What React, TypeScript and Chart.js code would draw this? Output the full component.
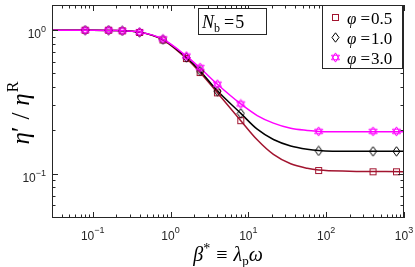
import React, { useEffect, useRef } from 'react';
import { Chart, registerables } from 'chart.js';

Chart.register(...registerables);

// ---- data ----
const markerX = [0.08, 0.16, 0.24, 0.4, 0.8, 1.6, 2.4, 4, 8, 80, 400, 800];
const phi05Markers = [1.0, 1.0, 0.99, 0.965, 0.855, 0.635, 0.507, 0.366, 0.234, 0.105, 0.103, 0.103];
const phi10Markers = [1.0, 1.0, 0.99, 0.965, 0.86, 0.645, 0.52, 0.376, 0.263, 0.144, 0.143, 0.143];
const phi30Markers = [1.0, 1.0, 0.99, 0.97, 0.87, 0.66, 0.55, 0.42, 0.306, 0.197, 0.197, 0.197];

const curveX = [0.03, 0.1, 0.2, 0.4, 0.8, 1.6, 2.4, 4, 8, 13, 21, 35, 57, 80, 200, 1000];
const phi05Curve = [1.0, 1.0, 0.995, 0.97, 0.855, 0.635, 0.507, 0.366, 0.234, 0.172, 0.136, 0.117, 0.109, 0.106, 0.104, 0.103];
const phi10Curve = [1.0, 1.0, 0.995, 0.97, 0.86, 0.645, 0.52, 0.378, 0.263, 0.204, 0.173, 0.156, 0.148, 0.145, 0.143, 0.143];
const phi30Curve = [1.0, 1.0, 0.995, 0.972, 0.865, 0.66, 0.545, 0.42, 0.306, 0.254, 0.225, 0.207, 0.2, 0.197, 0.196, 0.196];

const seriesLabels = ['0.5', '1.0', '3.0'];
const xTickValues = [0.1, 1, 10, 100, 1000];
const xTickExponents = ['\u22121', '0', '1', '2', '3'];
const yTickValues = [1, 0.1];
const yTickExponents = ['0', '\u22121'];
const annotationValue = '5';

const RED = '#a2142f';
const BLACK = '#000000';
const MAGENTA = '#ff00ff';
const AXIS = '#262626';
const SERIF = '"Liberation Serif", "DejaVu Serif", serif';
const SANS = '"Liberation Sans", Arial, sans-serif';

function makeMarker(shape: string, color: string): HTMLCanvasElement {
  const c = document.createElement('canvas');
  const ctx = c.getContext('2d')!;
  if (shape === 'square') {
    c.width = 9; c.height = 9;
    ctx.strokeStyle = color; ctx.lineWidth = 1;
    ctx.strokeRect(1.5, 1.5, 6, 6);
  } else if (shape === 'diamond') {
    c.width = 9; c.height = 11;
    ctx.strokeStyle = color; ctx.lineWidth = 1;
    ctx.beginPath();
    ctx.moveTo(4.5, 0.8); ctx.lineTo(8, 5.5); ctx.lineTo(4.5, 10.2); ctx.lineTo(1, 5.5);
    ctx.closePath(); ctx.stroke();
  } else {
    c.width = 11; c.height = 11;
    ctx.strokeStyle = color; ctx.lineWidth = 1;
    const cx = 5.5, cy = 5.5, r = 4.6;
    for (const start of [-90, 90]) {
      ctx.beginPath();
      for (let k = 0; k < 3; k++) {
        const a = ((start + k * 120) * Math.PI) / 180;
        const px = cx + r * Math.cos(a), py = cy + r * Math.sin(a);
        if (k === 0) ctx.moveTo(px, py); else ctx.lineTo(px, py);
      }
      ctx.closePath(); ctx.stroke();
    }
  }
  return c;
}

type Part = { t: string; font: string; dy?: number; gap?: number };
function richWidth(ctx: CanvasRenderingContext2D, parts: Part[]) {
  let w = 0;
  for (const p of parts) { ctx.font = p.font; w += ctx.measureText(p.t).width + (p.gap || 0); }
  return w;
}
function drawRich(ctx: CanvasRenderingContext2D, parts: Part[], x: number, y: number) {
  let cx = x;
  for (const p of parts) {
    ctx.font = p.font;
    ctx.fillText(p.t, cx, y + (p.dy || 0));
    cx += ctx.measureText(p.t).width + (p.gap || 0);
  }
}

export default function App() {
  const ref = useRef<HTMLCanvasElement | null>(null);
  useEffect(() => {
    if (!ref.current) return;
    const mSquare = makeMarker('square', RED);
    const mDiamond = makeMarker('diamond', BLACK);
    const mStar = makeMarker('star', MAGENTA);
    const markers = [mSquare, mDiamond, mStar];

    const pts = (xs: number[], ys: number[]) => xs.map((x, i) => ({ x, y: ys[i] }));

    const overlay = {
      id: 'overlay',
      afterDraw(chart: any) {
        const { ctx, chartArea: a, scales } = chart;
        const xs = scales.x, ys = scales.y;
        ctx.save();
        ctx.strokeStyle = AXIS;
        ctx.fillStyle = AXIS;
        ctx.lineWidth = 1;
        // ticks
        ctx.beginPath();
        for (let d = -2; d <= 3; d++) {
          for (let m = 1; m <= 9; m++) {
            const v = m * Math.pow(10, d);
            if (v < xs.min * 0.999 || v > xs.max * 1.001) continue;
            const px = Math.round(xs.getPixelForValue(v)) + 0.5;
            const len = m === 1 ? 6 : 3.5;
            ctx.moveTo(px, a.bottom); ctx.lineTo(px, a.bottom - len);
            ctx.moveTo(px, a.top); ctx.lineTo(px, a.top + len);
          }
        }
        for (let d = -2; d <= 1; d++) {
          for (let m = 1; m <= 9; m++) {
            const v = m * Math.pow(10, d);
            if (v < ys.min * 0.999 || v > ys.max * 1.001) continue;
            const py = Math.round(ys.getPixelForValue(v)) + 0.5;
            const len = m === 1 ? 6 : 3.5;
            ctx.moveTo(a.left, py); ctx.lineTo(a.left + len, py);
            ctx.moveTo(a.right, py); ctx.lineTo(a.right - len, py);
          }
        }
        ctx.stroke();
        ctx.strokeRect(a.left + 0.5, a.top + 0.5, a.right - a.left - 1, a.bottom - a.top - 1);

        // tick labels
        ctx.textBaseline = 'alphabetic';
        ctx.textAlign = 'left';
        const baseFont = `12px ${SANS}`;
        const supFont = `9px ${SANS}`;
        xTickValues.forEach((v, i) => {
          const parts: Part[] = [{ t: '10', font: baseFont }, { t: xTickExponents[i], font: supFont, dy: -7 }];
          const w = richWidth(ctx, parts);
          const px = xs.getPixelForValue(v);
          drawRich(ctx, parts, px - w / 2, 240);
        });
        yTickValues.forEach((v, i) => {
          const parts: Part[] = [{ t: '10', font: baseFont }, { t: yTickExponents[i], font: supFont, dy: -6 }];
          const w = richWidth(ctx, parts);
          const py = ys.getPixelForValue(v);
          drawRich(ctx, parts, a.left - 6 - w, py + 8);
        });

        // axis titles
        ctx.fillStyle = '#000';
        const it = (s: number) => `italic ${s}px ${SERIF}`;
        const up = (s: number) => `${s}px ${SERIF}`;
        const xt: Part[] = [
          { t: '\u03b2', font: it(20) },
          { t: '*', font: up(14), dy: -8, gap: 6 },
          { t: '\u2261', font: up(20), gap: 6 },
          { t: '\u03bb', font: it(20) },
          { t: 'p', font: up(13), dy: 4 },
          { t: '\u03c9', font: it(20) },
        ];
        const xw = richWidth(ctx, xt);
        drawRich(ctx, xt, (a.left + a.right) / 2 - xw / 2, 261);

        const yt: Part[] = [
          { t: '\u03b7', font: it(25) },
          { t: '\u2032', font: up(25), gap: 7 },
          { t: '/', font: up(25), gap: 7 },
          { t: '\u03b7', font: it(25), gap: 1 },
          { t: 'R', font: up(16), dy: -11 },
        ];
        const yw = richWidth(ctx, yt);
        ctx.save();
        ctx.translate(29, 113);
        ctx.rotate(-Math.PI / 2);
        drawRich(ctx, yt, -yw / 2, 0);
        ctx.restore();

        // legend
        const lx = 322, ly = 5, lw = 80, lh = 63;
        ctx.fillStyle = '#fff';
        ctx.fillRect(lx, ly, lw, lh);
        ctx.strokeStyle = AXIS;
        ctx.lineWidth = 1;
        ctx.strokeRect(lx + 0.5, ly + 0.5, lw, lh);
        seriesLabels.forEach((lab, i) => {
          const cy = 17.5 + i * 20;
          const mk = markers[i];
          ctx.drawImage(mk, Math.round(335 - mk.width / 2), Math.round(cy - mk.height / 2));
          ctx.fillStyle = '#000';
          drawRich(ctx, [
            { t: '\u03c6', font: it(17), gap: 4 },
            { t: '=', font: up(17), gap: 1 },
            { t: lab, font: up(17) },
          ], 347, cy + 6);
        });

        // annotation box
        const bx = 198, by = 8, bw = 68, bh = 26;
        ctx.fillStyle = '#fff';
        ctx.fillRect(bx, by, bw, bh);
        ctx.strokeStyle = AXIS;
        ctx.strokeRect(bx + 0.5, by + 0.5, bw, bh);
        ctx.fillStyle = '#000';
        drawRich(ctx, [
          { t: 'N', font: it(18) },
          { t: 'b', font: up(12), dy: 4, gap: 4 },
          { t: '=', font: up(18), gap: 1 },
          { t: annotationValue, font: up(18) },
        ], 202, 28);
        ctx.restore();
      },
    };

    const chart = new Chart(ref.current, {
      type: 'line',
      data: {
        datasets: [
          { label: 'm3', data: pts(markerX, phi30Markers), showLine: false, pointStyle: mStar as any, pointRadius: 4, order: 0, borderColor: MAGENTA },
          { label: 'm1', data: pts(markerX, phi10Markers), showLine: false, pointStyle: mDiamond as any, pointRadius: 4, order: 1, borderColor: BLACK },
          { label: 'm05', data: pts(markerX, phi05Markers), showLine: false, pointStyle: mSquare as any, pointRadius: 4, order: 2, borderColor: RED },
          { label: 'c3', data: pts(curveX, phi30Curve), borderColor: MAGENTA, borderWidth: 1.5, pointRadius: 0, cubicInterpolationMode: 'monotone', order: 3 },
          { label: 'c1', data: pts(curveX, phi10Curve), borderColor: BLACK, borderWidth: 1.5, pointRadius: 0, cubicInterpolationMode: 'monotone', order: 4 },
          { label: 'c05', data: pts(curveX, phi05Curve), borderColor: RED, borderWidth: 1.5, pointRadius: 0, cubicInterpolationMode: 'monotone', order: 5 },
        ],
      },
      options: {
        animation: false,
        responsive: false,
        layout: { padding: { left: 52, right: 11, top: 1, bottom: 49 } },
        plugins: { legend: { display: false }, tooltip: { enabled: false } },
        scales: {
          x: { type: 'logarithmic', min: 0.03, max: 1000, display: false },
          y: { type: 'logarithmic', min: 0.049, max: 1.5, display: false },
        },
      },
      plugins: [overlay],
    });
    return () => chart.destroy();
  }, []);

  return (
    <div style={{ position: 'fixed', left: 0, top: 0, width: 415, height: 267, background: '#fff' }}>
      <canvas ref={ref} width={415} height={267} style={{ display: 'block', width: 415, height: 267 }} />
    </div>
  );
}
